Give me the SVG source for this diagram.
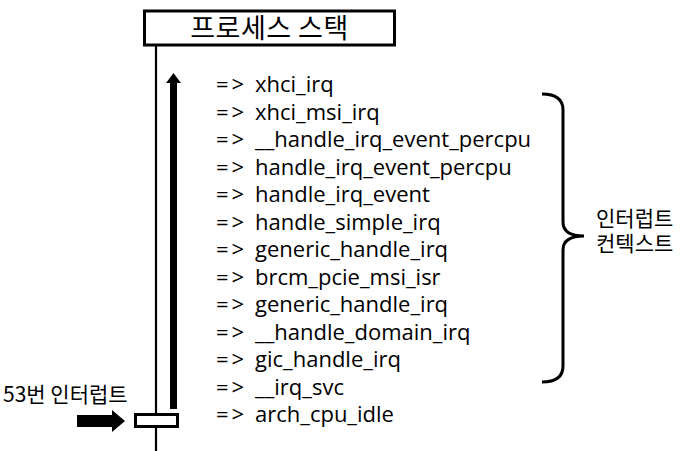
<svg xmlns="http://www.w3.org/2000/svg" width="687" height="451" viewBox="0 0 687 451">
<style>
.t{font-family:"Open Sans","Noto Sans","Noto Sans CJK KR",sans-serif;font-size:22px;fill:#000}
.a{letter-spacing:3px}
.k{font-family:"Noto Sans CJK KR",sans-serif;font-size:21px;fill:#000}
.ttl{font-family:"Noto Sans CJK KR",sans-serif;font-size:27px;letter-spacing:0.5px;fill:#000}
.ln{stroke:#000;fill:none}
</style>
<rect width="687" height="451" fill="#fff"/>
<g id="stack-title">
<rect x="144.5" y="11" width="250" height="34" fill="#fff" stroke="#000" stroke-width="3"/>
<text class="ttl" x="269.5" y="37.5" text-anchor="middle">프로세스 스택</text>
</g>
<g id="connectors">
<line class="ln" x1="156" y1="45" x2="156" y2="451" stroke-width="2.2"/>
<path d="M170 83H177V409H170Z M166 83L173.5 73L181 83Z" fill="#000"/>
<path d="M77 415H112V410L125 421L112 432V427H77Z" fill="#000"/>
<path class="ln" stroke-width="3" d="M542 94C556 94 563 99 563 110V222C563 231 570 236 584 236C570 236 563 241 563 250V366C563 377 556 382 542 382"/>
</g>
<g id="interrupt-frame">
<rect x="135.5" y="414.5" width="42" height="12" fill="#fff" stroke="#000" stroke-width="3"/>
</g>
<g id="irq-label">
<text class="k" x="3" y="402">53번 인터럽트</text>
</g>
<g id="context-label">
<text class="k" x="596" y="226">인터럽트</text>
<text class="k" x="596" y="251">컨텍스트</text>
</g>
<g id="call-stack" class="t">
<text x="216" y="92"><tspan class="a">=&gt;</tspan><tspan x="255">xhci_irq</tspan></text>
<text x="216" y="119.5"><tspan class="a">=&gt;</tspan><tspan x="255">xhci_msi_irq</tspan></text>
<text x="216" y="147"><tspan class="a">=&gt;</tspan><tspan x="255">__handle_irq_event_percpu</tspan></text>
<text x="216" y="174.5"><tspan class="a">=&gt;</tspan><tspan x="255">handle_irq_event_percpu</tspan></text>
<text x="216" y="202"><tspan class="a">=&gt;</tspan><tspan x="255">handle_irq_event</tspan></text>
<text x="216" y="229.5"><tspan class="a">=&gt;</tspan><tspan x="255">handle_simple_irq</tspan></text>
<text x="216" y="257"><tspan class="a">=&gt;</tspan><tspan x="255">generic_handle_irq</tspan></text>
<text x="216" y="284.5"><tspan class="a">=&gt;</tspan><tspan x="255">brcm_pcie_msi_isr</tspan></text>
<text x="216" y="312"><tspan class="a">=&gt;</tspan><tspan x="255">generic_handle_irq</tspan></text>
<text x="216" y="339.5"><tspan class="a">=&gt;</tspan><tspan x="255">__handle_domain_irq</tspan></text>
<text x="216" y="367"><tspan class="a">=&gt;</tspan><tspan x="255">gic_handle_irq</tspan></text>
<text x="216" y="394.5"><tspan class="a">=&gt;</tspan><tspan x="255">__irq_svc</tspan></text>
<text x="216" y="422"><tspan class="a">=&gt;</tspan><tspan x="255">arch_cpu_idle</tspan></text>
</g>
</svg>
